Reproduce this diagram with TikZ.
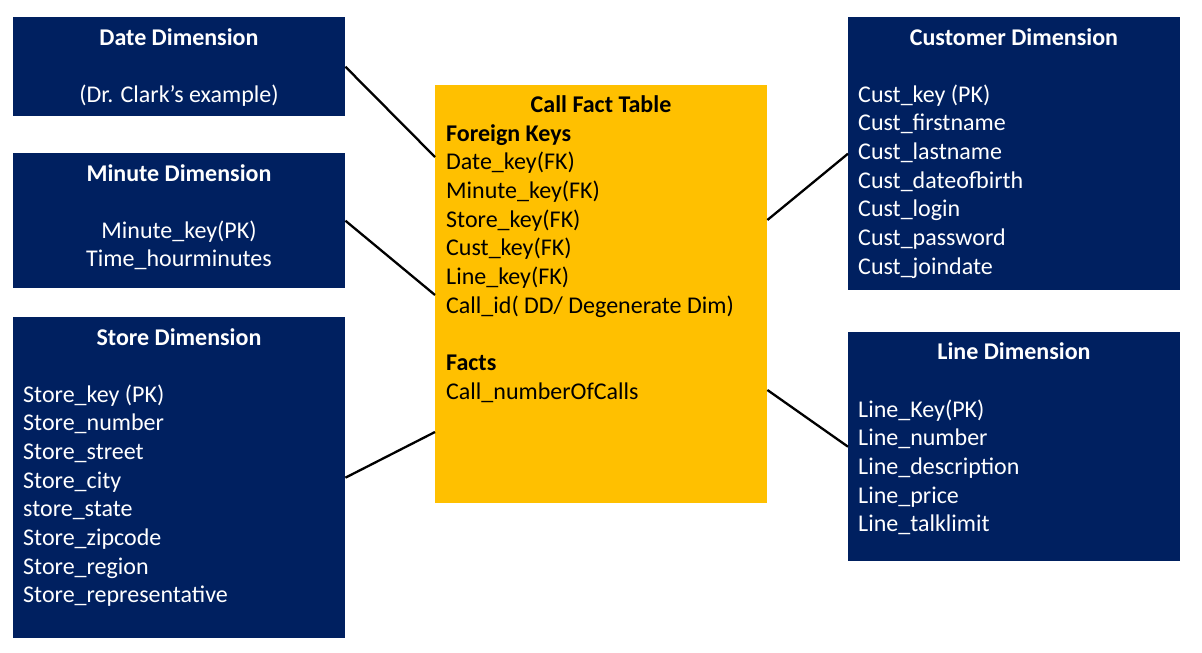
\documentclass[tikz,border=0pt]{standalone}
\usepackage{fontspec}
\setmainfont{Carlito}
\definecolor{navy}{HTML}{002060}
\definecolor{gold}{HTML}{FFC000}
\tikzset{
  dimbox/.style={fill=navy, draw=none, anchor=north west, inner sep=0pt},
  factbox/.style={fill=gold, draw=none, anchor=north west, inner sep=0pt},
  wtxt/.style={text=white, inner sep=0pt, font=\fontsize{24}{28.7}\selectfont},
  btxt/.style={text=black, inner sep=0pt, font=\fontsize{24}{28.7}\selectfont},
  link/.style={draw=black, line width=2.3pt}
}
\begin{document}
\begin{tikzpicture}[x=1pt,y=-1pt]
\useasboundingbox (0,0) rectangle (1202,653);
% boxes
\node[dimbox, minimum width=332pt, minimum height=99pt] (date) at (13,17) {};
\node[dimbox, minimum width=332pt, minimum height=135pt] (minute) at (13,153) {};
\node[dimbox, minimum width=332pt, minimum height=321pt] (store) at (13,317) {};
\node[factbox, minimum width=332pt, minimum height=418pt] (fact) at (435,85) {};
\node[dimbox, minimum width=332pt, minimum height=273pt] (cust) at (848,17) {};
\node[dimbox, minimum width=332pt, minimum height=229pt] (line) at (848,332) {};
% connectors
\draw[link] (date.east) -- ([yshift=-72pt]fact.north west);
\draw[link] (minute.east) -- ([yshift=-210pt]fact.north west);
\draw[link] (store.east) -- ([yshift=-347pt]fact.north west);
\draw[link] ([yshift=-135pt]fact.north east) -- (cust.west);
\draw[link] ([yshift=-305pt]fact.north east) -- (line.west);
% date (multi-line nodes: base anchor is the last line)
\node[wtxt, anchor=base] (datet) at (179,45) {\textbf{Date Dimension}};
\node[wtxt, anchor=base] (dateb) at (179,102) {(Dr. Clark’s example)};
% minute
\node[wtxt, anchor=base] (minutet) at (179,181) {\textbf{Minute Dimension}};
\node[wtxt, anchor=base, align=center] (minuteb) at (179,266.7) {Minute\_key(PK)\\Time\_hourminutes};
% store
\node[wtxt, anchor=base] (storet) at (179,345) {\textbf{Store Dimension}};
\node[wtxt, anchor=base west, align=left] (storeb) at (23,602.9) {Store\_key (PK)\\Store\_number\\Store\_street\\Store\_city\\store\_state\\Store\_zipcode\\Store\_region\\Store\_representative};
% fact
\node[btxt, anchor=base] (factt) at (601,112) {\textbf{Call Fact Table}};
\node[btxt, anchor=base west, align=left] (factb) at (446,399.3) {\textbf{Foreign Keys}\\Date\_key(FK)\\Minute\_key(FK)\\Store\_key(FK)\\Cust\_key(FK)\\Line\_key(FK)\\Call\_id( DD/ Degenerate Dim)\\[28.7pt]\textbf{Facts}\\Call\_numberOfCalls};
% customer
\node[wtxt, anchor=base] (custt) at (1014,45) {\textbf{Customer Dimension}};
\node[wtxt, anchor=base west, align=left] (custb) at (858,274.2) {Cust\_key (PK)\\Cust\_firstname\\Cust\_lastname\\Cust\_dateofbirth\\Cust\_login\\Cust\_password\\Cust\_joindate};
% line
\node[wtxt, anchor=base] (linet) at (1014,359) {\textbf{Line Dimension}};
\node[wtxt, anchor=base west, align=left] (lineb) at (858,531.8) {Line\_Key(PK)\\Line\_number\\Line\_description\\Line\_price\\Line\_talklimit};
\end{tikzpicture}
\end{document}
